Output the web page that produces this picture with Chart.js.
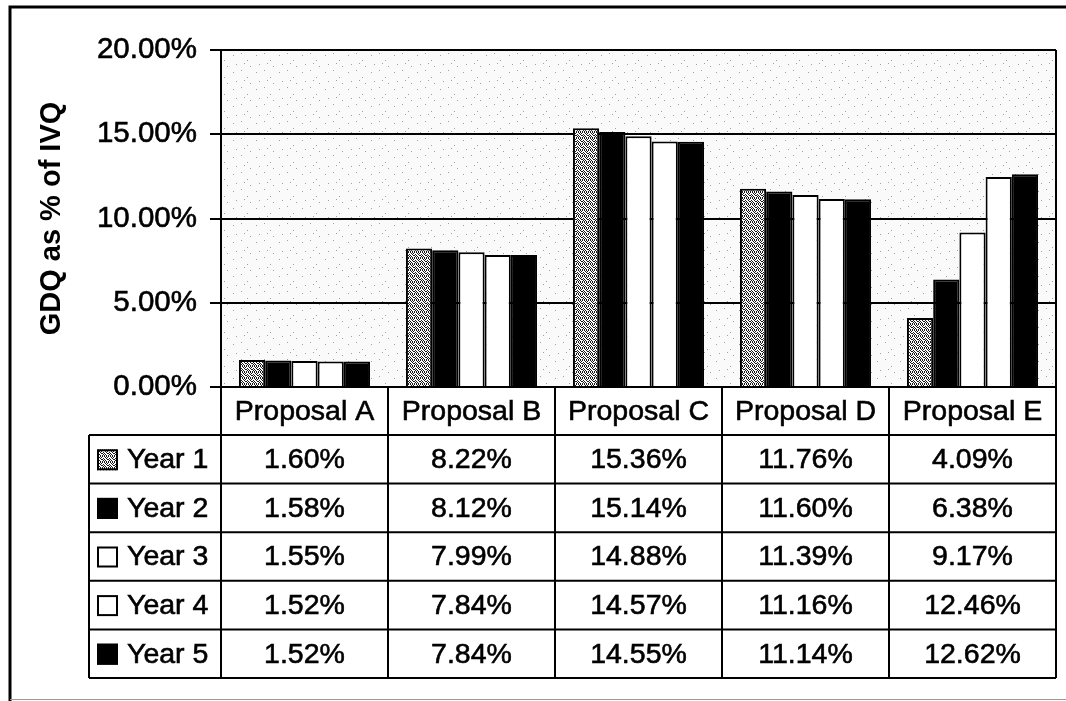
<!DOCTYPE html>
<html>
<head>
<meta charset="utf-8">
<script src="https://cdn.jsdelivr.net/npm/chart.js"></script>
<style>
  html, body { margin: 0; padding: 0; background: #fff; }
  #wrap { width: 1066px; height: 701px; position: relative; }
</style>
</head>
<body>
<div id="wrap"><canvas id="gdqChart"></canvas></div>
<script>
// data (values in %)
const categories = ['Proposal A', 'Proposal B', 'Proposal C', 'Proposal D', 'Proposal E'];
const seriesNames = ['Year 1', 'Year 2', 'Year 3', 'Year 4', 'Year 5'];
const year1 = [1.60, 8.22, 15.36, 11.76, 4.09];
const year2 = [1.58, 8.12, 15.14, 11.60, 6.38];
const year3 = [1.55, 7.99, 14.88, 11.39, 9.17];
const year4 = [1.52, 7.84, 14.57, 11.16, 12.46];
const year5 = [1.52, 7.84, 14.55, 11.14, 12.62];
const yMin = 0, yMax = 20, yStep = 5;
const yTitle = 'GDQ as % of IVQ';

const FONT = "'Liberation Sans', Arial, Helvetica, sans-serif";

// small tiled patterns to imitate the scanned stipple fills
function makePattern(w, h, bg, dots, dotColor) {
    const c = document.createElement('canvas');
    c.width = w; c.height = h;
    const g = c.getContext('2d');
    g.fillStyle = bg;
    g.fillRect(0, 0, w, h);
    g.fillStyle = dotColor;
    dots.forEach(d => g.fillRect(d[0], d[1], 1, 1));
    return g.createPattern(c, 'repeat');
}

const stipple = makePattern(6, 6, '#ffffff',
    [[0,0],[2,0],[3,1],[5,1],[1,2],[4,2],[0,3],[2,3],[5,3],[1,4],[3,4],[4,5],[0,5],[2,5],[4,0]], '#1a1a1a');
const plotBg = makePattern(23, 17, '#fafafa',
    [[3,4],[11,2],[17,9],[6,13],[20,15],[14,12]], '#a0a0a0');

const fills = [stipple, '#000000', '#ffffff', '#ffffff', '#000000'];
const allSeries = [year1, year2, year3, year4, year5];

const datasets = allSeries.map((vals, i) => ({
    label: seriesNames[i],
    data: vals,
    backgroundColor: fills[i],
    borderColor: '#000',
    borderWidth: 2,
    borderSkipped: 'bottom',
    categoryPercentage: 0.785,
    barPercentage: 1.0
}));

function fmt(v) { return v.toFixed(2) + '%'; }

// text with a hairline stroke, the scan makes the type look heavier
function heavyText(ctx, txt, x, y) {
    ctx.fillText(txt, x, y);
    ctx.strokeText(txt, x, y);
}

// frame, plot background, right border and the data table
const decorPlugin = {
    id: 'decor',
    beforeDraw(chart) {
        const ctx = chart.ctx, a = chart.chartArea;
        ctx.save();
        ctx.fillStyle = plotBg;
        ctx.fillRect(a.left, a.top, a.right - a.left, a.bottom - a.top);
        ctx.restore();
    },
    afterDraw(chart) {
        const ctx = chart.ctx, a = chart.chartArea;
        const xs = chart.scales.x;
        const colW = (a.right - a.left) / categories.length;
        const headTop = a.bottom;
        const headBottom = headTop + 48;
        const rowH = 48.6;
        const tableBottom = headBottom + rowH * seriesNames.length;
        const legendLeft = 89;

        ctx.save();
        // outer frame
        ctx.strokeStyle = '#000';
        ctx.lineWidth = 3;
        ctx.beginPath();
        ctx.moveTo(10, 701); ctx.lineTo(10, 7); ctx.lineTo(1066, 7);
        ctx.stroke();
        ctx.strokeStyle = '#999';
        ctx.lineWidth = 1;
        ctx.beginPath();
        ctx.moveTo(10, 699.5); ctx.lineTo(1066, 699.5);
        ctx.stroke();

        ctx.strokeStyle = '#000';
        ctx.lineWidth = 2;
        ctx.beginPath();
        // plot right border
        ctx.moveTo(a.right, a.top); ctx.lineTo(a.right, a.bottom);
        // row lines
        for (let r = 0; r <= seriesNames.length; r++) {
            const y = headBottom + r * rowH;
            ctx.moveTo(legendLeft, y); ctx.lineTo(a.right, y);
        }
        // column lines
        for (let c = 0; c <= categories.length; c++) {
            const x = a.left + c * colW;
            ctx.moveTo(x, headTop); ctx.lineTo(x, tableBottom);
        }
        ctx.moveTo(legendLeft, headBottom); ctx.lineTo(legendLeft, tableBottom);
        ctx.stroke();

        ctx.fillStyle = '#000';
        ctx.strokeStyle = '#000';
        ctx.lineWidth = 0.6;
        ctx.font = '28.5px ' + FONT;
        ctx.textBaseline = 'middle';
        ctx.textAlign = 'center';
        categories.forEach((cat, i) => {
            const cx = xs.getPixelForValue(i);
            heavyText(ctx, cat, cx, (headTop + headBottom) / 2 + 1);
            allSeries.forEach((vals, r) => {
                heavyText(ctx, fmt(vals[i]), cx, headBottom + r * rowH + rowH / 2 + 1);
            });
        });

        // legend keys in the first column
        ctx.textAlign = 'left';
        seriesNames.forEach((name, r) => {
            const cy = headBottom + r * rowH + rowH / 2;
            const sx = legendLeft + 8, sy = cy - 10;
            ctx.fillStyle = fills[r];
            ctx.fillRect(sx, sy, 21, 21);
            ctx.lineWidth = 2;
            ctx.strokeStyle = '#000';
            ctx.strokeRect(sx + 1, sy + 1, 19, 19);
            ctx.fillStyle = '#000';
            ctx.lineWidth = 0.6;
            heavyText(ctx, name, legendLeft + 38, cy + 1);
        });
        ctx.restore();
    }
};

const ctx = document.getElementById('gdqChart').getContext('2d');
const myChart = new Chart(ctx, {
    type: 'bar',
    data: {
        labels: categories,
        datasets: datasets
    },
    options: {
        responsive: true,
        maintainAspectRatio: false,
        animation: false,
        layout: {
            padding: { top: 50, right: 10, bottom: 314, left: 0 }
        },
        plugins: {
            legend: { display: false },
            tooltip: { enabled: false }
        },
        scales: {
            x: {
                display: false
            },
            y: {
                min: yMin,
                max: yMax,
                ticks: {
                    stepSize: yStep,
                    padding: 13,
                    color: '#000',
                    textStrokeColor: '#000',
                    textStrokeWidth: 0.6,
                    font: { family: FONT, size: 29.5 },
                    callback: function(value) {
                        return value.toFixed(2) + '%';
                    }
                },
                grid: {
                    color: '#000',
                    lineWidth: 2,
                    drawTicks: true,
                    tickLength: 11,
                    tickColor: '#000',
                    tickWidth: 2
                },
                border: { display: true, color: '#000', width: 2 },
                title: {
                    display: true,
                    text: yTitle,
                    color: '#000',
                    font: { family: FONT, size: 29, weight: 'bold' },
                    padding: { top: 35, bottom: 0 }
                },
                afterFit: function(scale) {
                    scale.width = 221;
                }
            }
        }
    },
    plugins: [decorPlugin]
});
</script>
</body>
</html>
